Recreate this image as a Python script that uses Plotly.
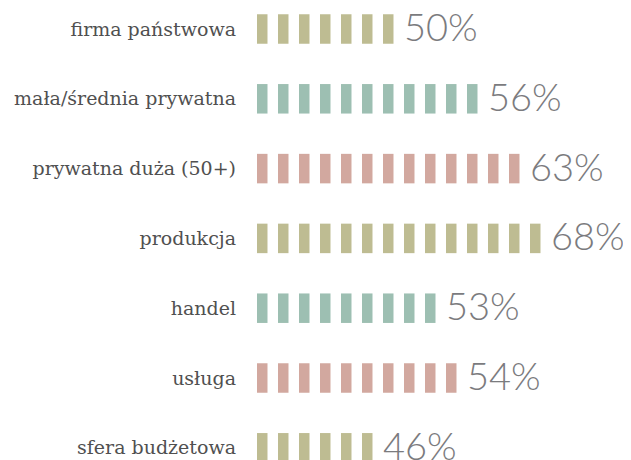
import plotly.graph_objects as go

categories = ["firma państwowa", "mała/średnia prywatna", "prywatna duża (50+)",
              "produkcja", "handel", "usługa", "sfera budżetowa"]
values = [50, 56, 63, 68, 53, 54, 46]
blocks = [7, 11, 13, 14, 9, 10, 6]
colors = ["#bebc92", "#9dbfb2", "#d2a89f", "#bebc92", "#9dbfb2", "#d2a89f", "#bebc92"]
labels = [f"{v}%" for v in values]

# page body has an 8px margin: compensate so the visible picture lines up
OFF = 8
ROW = 69.8
FIRST = 29 - OFF
LEFT = 257 - OFF
STEP = 21.0

fig = go.Figure()
for i, (n, c) in enumerate(zip(blocks, colors)):
    fig.add_trace(go.Bar(
        orientation="h",
        y=[i] * n,
        x=[0.5] * n,
        base=list(range(n)),
        width=29.5 / ROW,
        marker=dict(color=c, line=dict(width=0)),
        hoverinfo="skip",
        showlegend=False,
    ))
    fig.add_annotation(
        x=n - 0.5, y=i, text=labels[i], showarrow=False,
        xanchor="left", yanchor="middle", xshift=8, yshift=3,
        font=dict(family="Lato", size=38, color="#7b7b7e", weight=300),
    )

fig.update_layout(
    width=631, height=460,
    margin=dict(l=LEFT, r=0, t=0, b=0),
    paper_bgcolor="white", plot_bgcolor="white",
    barmode="overlay",
    xaxis=dict(range=[0, (631 - LEFT) / STEP], visible=False, fixedrange=True),
    yaxis=dict(
        range=[(460 - FIRST) / ROW, -FIRST / ROW],
        tickmode="array", tickvals=list(range(len(categories))), ticktext=categories,
        tickfont=dict(family="DejaVu Serif", size=19, color="#505050"),
        showgrid=False, zeroline=False, showline=False, ticks="",
        ticklabelstandoff=20, fixedrange=True,
    ),
)

fig.write_html("out.html")
